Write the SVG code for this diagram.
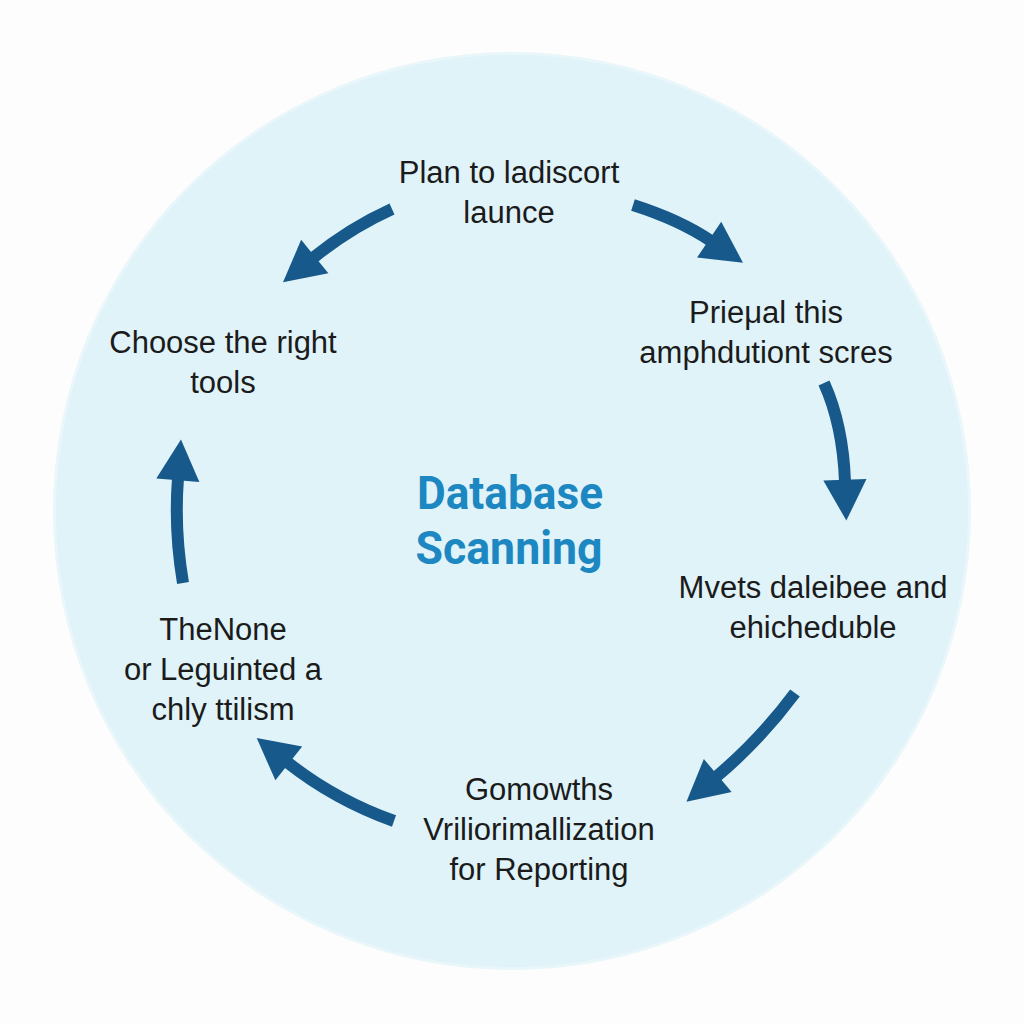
<svg xmlns="http://www.w3.org/2000/svg" width="1024" height="1024" viewBox="0 0 1024 1024">
<defs>
<style>
.lbl{font-family:"Liberation Sans",Arial,sans-serif;font-size:31px;fill:#1b1b1b;text-anchor:middle}
.title{font-family:Roboto,"Liberation Sans",sans-serif;font-weight:700;font-size:47px;fill:#1d87c1;text-anchor:middle}
.arrow{fill:none;stroke:#17598a;stroke-width:12;marker-end:url(#head)}
</style>
<marker id="head" markerUnits="userSpaceOnUse" markerWidth="50" markerHeight="50" viewBox="-2 -22 42 44" refX="2" refY="0" orient="auto">
<path d="M0,-19 L36,0 L0,19 Z" fill="#17598a"/>
</marker>
</defs>
<rect width="1024" height="1024" fill="#fdfdfd"/>
<circle cx="512" cy="511" r="459" fill="#e9f6fa"/>
<circle cx="512" cy="511" r="456" fill="#dff3f9"/>
<g id="center">
<text class="title" x="510" y="509" textLength="186" lengthAdjust="spacingAndGlyphs">Database</text>
<text class="title" x="509" y="564" textLength="187" lengthAdjust="spacingAndGlyphs">Scanning</text>
</g>
<g id="node-top">
<text class="lbl" x="509" y="183">Plan to ladiscort</text>
<text class="lbl" x="509" y="223">launce</text>
</g>
<g id="node-right-top">
<text class="lbl" x="766" y="323">Prieμal this</text>
<text class="lbl" x="766" y="363">amphdutiont scres</text>
</g>
<g id="node-right-bottom">
<text class="lbl" x="813" y="598">Mvets daleibee and</text>
<text class="lbl" x="813" y="638">ehichedublе</text>
</g>
<g id="node-bottom">
<text class="lbl" x="539" y="800">Gomowths</text>
<text class="lbl" x="539" y="840">Vriliorimallization</text>
<text class="lbl" x="539" y="880">for Reporting</text>
</g>
<g id="node-left-bottom">
<text class="lbl" x="223" y="640">TheNone</text>
<text class="lbl" x="223" y="680">or Leguinted a</text>
<text class="lbl" x="223" y="720">chly ttilism</text>
</g>
<g id="node-left-top">
<text class="lbl" x="223" y="353">Choose the right</text>
<text class="lbl" x="223" y="393">tools</text>
</g>
<g id="connectors">
<path class="arrow" d="M392,209 Q350,228 313,258"/>
<path class="arrow" d="M633,205 Q680,220 711,241"/>
<path class="arrow" d="M824,383 Q843,425 845,482"/>
<path class="arrow" d="M795,693 Q760,740 716,777"/>
<path class="arrow" d="M394,821 Q335,800 287,762"/>
<path class="arrow" d="M183,583 Q174,530 178,478"/>
</g>
</svg>
